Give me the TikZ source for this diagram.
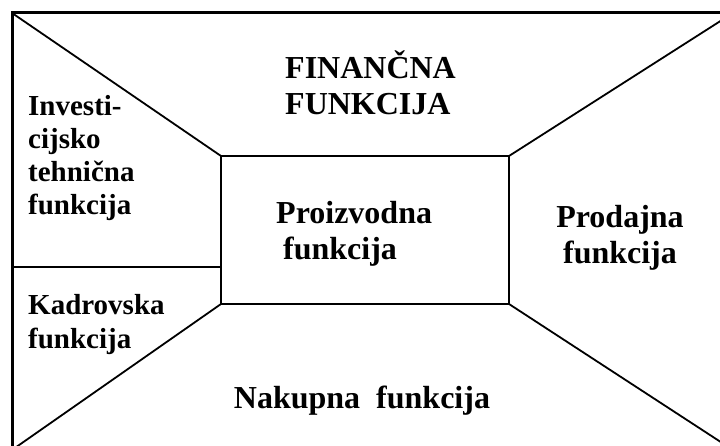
\documentclass[tikz,border=0pt]{standalone}
\usepackage{fontspec}
\setmainfont{Liberation Serif}
\usetikzlibrary{positioning}

\tikzset{
  biglbl/.style={font=\fontsize{32}{36}\selectfont\bfseries, inner sep=0pt},
  smalllbl/.style={font=\fontsize{29}{33}\selectfont\bfseries, inner sep=0pt},
  frame/.style={line width=3pt},
  inner/.style={line width=2.4pt},
  edge/.style={line width=1.8pt}
}

\begin{document}
\begin{tikzpicture}[x=1pt,y=-1pt]
\useasboundingbox (0,0) rectangle (720,446);
\clip (0,0) rectangle (720,446);

% outer frame (runs past the right and bottom edge)
\coordinate (tl) at (12,13);
\coordinate (tr) at (733,13);
\coordinate (br) at (733,450);
\coordinate (bl) at (12,450);
% middle box
\coordinate (mtl) at (221,156);
\coordinate (mtr) at (509,156);
\coordinate (mbr) at (509,304);
\coordinate (mbl) at (221,304);
\coordinate (split) at (12,267);
\coordinate (splitr) at (221,267);

\draw[frame] (tl) rectangle (br);
\draw[inner] (mtl) rectangle (mbr);
\draw[edge] (tl) -- (mtl);
\draw[edge] (tr) -- (mtr);
\draw[edge] (br) -- (mbr);
\draw[edge] (bl) -- (mbl);
\draw[edge] (split) -- (splitr);

\node[biglbl, align=left, anchor=base west] (fin) at (285,115) {FINANČNA\\FUNKCIJA};
\node[smalllbl, align=left, anchor=base west] (inv) at (28,215) {Investi-\\cijsko\\tehnična\\funkcija};
\node[smalllbl, align=left, anchor=base west] (kad) at (28,348) {Kadrovska\\funkcija};
\node[biglbl, align=left, anchor=base west] (pro) at (276,260) {Proizvodna\\\hspace*{7pt}funkcija};
\node[biglbl, align=center, anchor=base] (prod) at (620,264) {Prodajna\\funkcija};
\node[biglbl, anchor=base] (nak) at (362,408) {Nakupna\ \ funkcija};

\end{tikzpicture}
\end{document}
